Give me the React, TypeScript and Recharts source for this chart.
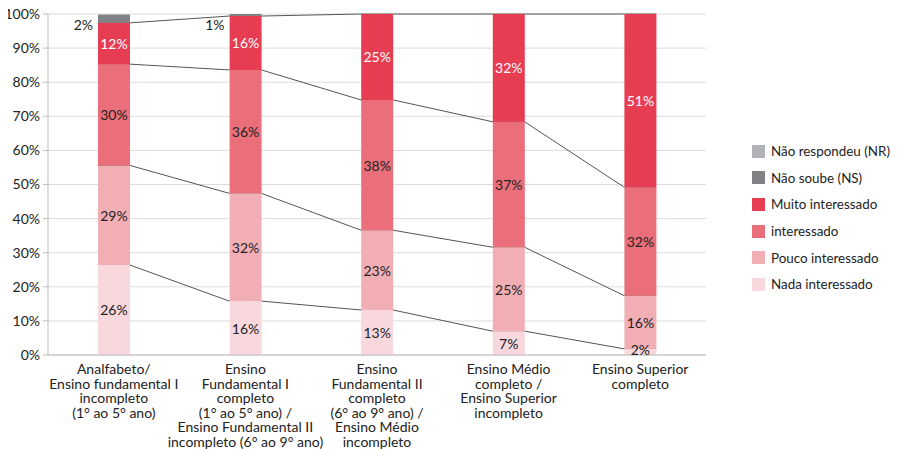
import React from 'react'
import {
  ComposedChart, Bar, Line, XAxis, YAxis, CartesianGrid, LabelList,
} from 'recharts'

const categories = [
  'Analfabeto/\nEnsino fundamental I\nincompleto\n(1° ao 5° ano)',
  'Ensino\nFundamental I\ncompleto\n(1° ao 5° ano) /\nEnsino Fundamental II\nincompleto (6° ao 9° ano)',
  'Ensino\nFundamental II\ncompleto\n(6° ao 9° ano) /\nEnsino Médio\nincompleto',
  'Ensino Médio\ncompleto /\nEnsino Superior\nincompleto',
  'Ensino Superior\ncompleto',
]

const nada = [26.4, 15.8, 13.2, 7.0, 1.8]
const pouco = [29.2, 31.6, 23.4, 24.6, 15.6]
const interessado = [29.7, 36.2, 38.2, 36.8, 31.8]
const muito = [12.1, 15.8, 25.2, 31.6, 50.8]
const naoSoube = [2.4, 0.6, 0, 0, 0]
const naoRespondeu = [0.2, 0, 0, 0, 0]

const yTicks = [0, 10, 20, 30, 40, 50, 60, 70, 80, 90, 100]

const series = [
  { key: 'nada', name: 'Nada interessado', values: nada, color: '#F8D8DC' },
  { key: 'pouco', name: 'Pouco interessado', values: pouco, color: '#F2AEB5' },
  { key: 'inter', name: 'interessado', values: interessado, color: '#EA6F7A' },
  { key: 'muito', name: 'Muito interessado', values: muito, color: '#E63D53' },
  { key: 'ns', name: 'Não soube (NS)', values: naoSoube, color: '#818285' },
  { key: 'nr', name: 'Não respondeu (NR)', values: naoRespondeu, color: '#B1B3B6' },
]

const W = 901
const H = 449
const PLOT_H = 341
const MARGIN = { top: 14, right: 195, left: 0, bottom: 0 }
const Y_W = 48
const BAR = 32
const FONT = 'Lato, "Open Sans", sans-serif'

const data = categories.map((name, i) => {
  const row: Record<string, any> = { name }
  series.forEach(s => { row[s.key] = s.values[i] })
  return row
})

// boundary lines (top of Nada, Pouco, interessado, Muito), flat across each bar so they hide under it
const band = (W - MARGIN.left - MARGIN.right - Y_W) / categories.length
const half = BAR / 2 / band
const lineData = series.slice(0, 4).map((_, k) =>
  categories.flatMap((_, i) => {
    const cum = series.slice(0, k + 1).reduce((s, r) => s + r.values[i], 0)
    return [{ x: i - half, y: cum }, { x: i + half, y: cum }]
  })
)

const CatTick = ({ x, y, payload }: any) => {
  const lines = String(payload.value).split('\n')
  return (
    <text x={x} y={y} textAnchor="middle" fontSize={14} fill="#222" fontFamily={FONT}>
      {lines.map((l, i) => (
        <tspan key={i} x={x} dy={i === 0 ? 19 : 14.6}>{l}</tspan>
      ))}
    </text>
  )
}

const segLabel = (fill: string) => (p: any) => {
  const { x, y, width, height, value } = p
  if (!value || value < 1) return null
  const cy = Math.min(y + height / 2, MARGIN.top + PLOT_H - 6)
  return (
    <text x={x + width / 2} y={cy} textAnchor="middle" dominantBaseline="central"
      fontSize={14} fill={fill} fontFamily={FONT}>
      {Math.round(value)}%
    </text>
  )
}

const sideLabel = (p: any) => {
  const { x, y, value } = p
  if (!value || value < 0.5) return null
  return (
    <text x={x - 5} y={y + 10} textAnchor="end" dominantBaseline="central"
      fontSize={14} fill="#222" fontFamily={FONT}>
      {Math.round(value)}%
    </text>
  )
}

const LegendBox = () => (
  <div style={{ position: 'absolute', left: 752, top: 138, fontFamily: FONT, fontSize: 13.4, color: '#222', whiteSpace: 'nowrap' }}>
    {[...series].reverse().map(s => (
      <div key={s.key} style={{ display: 'flex', alignItems: 'center', height: 26.6 }}>
        <span style={{ width: 13, height: 13, background: s.color, marginRight: 6, display: 'inline-block' }} />
        <span>{s.name}</span>
      </div>
    ))}
  </div>
)

export default function App() {
  return (
    <div style={{ position: 'relative', width: W, height: H, margin: '-8px 0 0 -8px' }}>
      <ComposedChart width={W} height={H} data={data} margin={MARGIN}>
        <CartesianGrid vertical={false} stroke="#DCDCDC" />
        <XAxis dataKey="name" tick={<CatTick />} tickLine={false} tickSize={0} tickMargin={0}
          interval={0} height={H - MARGIN.top - PLOT_H} axisLine={{ stroke: '#BDBDBD' }} />
        <XAxis xAxisId="num" type="number" dataKey="x" domain={[-0.5, 4.5]} hide allowDataOverflow />
        <YAxis domain={[0, 100]} ticks={yTicks} interval={0} width={Y_W} tickFormatter={v => `${v}%`}
          tick={{ fontSize: 14, fill: '#222', fontFamily: FONT }} tickSize={5} tickMargin={3}
          tickLine={{ stroke: '#BDBDBD' }} axisLine={{ stroke: '#BDBDBD' }} />
        {lineData.map((d, k) => (
          <Line key={k} xAxisId="num" data={d} dataKey="y" type="linear" stroke="#555"
            strokeWidth={1} dot={false} activeDot={false} isAnimationActive={false}
            legendType="none" zIndex={250} />
        ))}
        {series.map(s => (
          <Bar key={s.key} dataKey={s.key} name={s.name} stackId="a" fill={s.color}
            barSize={BAR} isAnimationActive={false}>
            {s.key === 'ns'
              ? <LabelList dataKey={s.key} content={sideLabel} />
              : s.key === 'nr'
                ? null
                : <LabelList dataKey={s.key} content={segLabel(s.key === 'muito' ? '#fff' : '#222')} />}
          </Bar>
        ))}
      </ComposedChart>
      <LegendBox />
    </div>
  )
}
